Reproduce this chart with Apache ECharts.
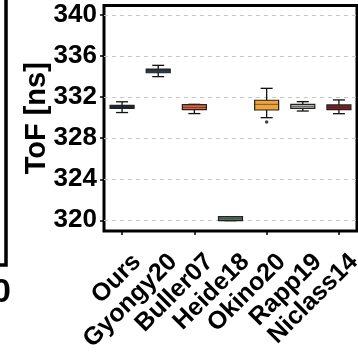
<!DOCTYPE html>
<html>
<head>
<meta charset="utf-8">
<script src="https://cdn.jsdelivr.net/npm/echarts@6/dist/echarts.min.js"></script>
<style>html,body{margin:0;padding:0;background:#fff;}#c{width:358px;height:355px;}</style>
</head>
<body>
<div id="c"></div>
<script>
const categories = ['Ours','Gyongy20','Buller07','Heide18','Okino20','Rapp19','Niclass14'];
// [min, q1, median, q3, max]
const ours      = [330.5, 330.9, 331.05, 331.2, 331.55];
const gyongy20  = [334.0, 334.38, 334.57, 334.74, 335.1];
const buller07  = [330.4, 330.78, 331.0, 331.27, 331.3];
const heide18   = [319.97, 319.97, 320.15, 320.36, 320.36];
const okino20   = [330.0, 330.75, 331.3, 331.7, 332.86];
const rapp19    = [330.65, 330.9, 331.1, 331.3, 331.56];
const niclass14 = [330.39, 330.78, 331.0, 331.24, 331.73];
const boxStats = [ours, gyongy20, buller07, heide18, okino20, rapp19, niclass14];
const outliers = [['Okino20', 329.58]];
const yTicks = [320, 324, 328, 332, 336, 340];
const colors = ['#1e2838','#2c3e4f','#e8653a','#5f7b68','#f0a43c','#bcc4b6','#8c1d1d'];

const chart = echarts.init(document.getElementById('c'));
const FONT = 'Liberation Sans';

function renderBox(params, api) {
  const i = api.value(0);
  const vmin = api.value(1), q1 = api.value(2), med = api.value(3), q3 = api.value(4), vmax = api.value(5);
  const pMin = api.coord([i, vmin]);
  const pQ1 = api.coord([i, q1]);
  const pMed = api.coord([i, med]);
  const pQ3 = api.coord([i, q3]);
  const pMax = api.coord([i, vmax]);
  const x = pMin[0];
  const bw = 24, cw = 12;
  const ls = {stroke: '#111', lineWidth: 1.3};
  return {
    type: 'group',
    children: [
      {type: 'line', shape: {x1: x, y1: pMin[1], x2: x, y2: pMax[1]}, style: ls},
      {type: 'line', shape: {x1: x - cw/2, y1: pMin[1], x2: x + cw/2, y2: pMin[1]}, style: ls},
      {type: 'line', shape: {x1: x - cw/2, y1: pMax[1], x2: x + cw/2, y2: pMax[1]}, style: ls},
      {type: 'rect', shape: {x: x - bw/2, y: pQ3[1], width: bw, height: Math.max(pQ1[1] - pQ3[1], 1)},
        style: {fill: colors[i], stroke: '#222', lineWidth: 1.2}},
      {type: 'line', shape: {x1: x - bw/2, y1: pMed[1], x2: x + bw/2, y2: pMed[1]}, style: {stroke: 'rgba(40,40,40,0.6)', lineWidth: 1}}
    ]
  };
}

chart.setOption({
  animation: false,
  grid: {left: 104, right: 1, top: 5.5, bottom: 124, show: true, borderColor: '#000', borderWidth: 3, backgroundColor: 'transparent'},
  xAxis: {
    type: 'category', data: categories, boundaryGap: true,
    axisLine: {show: false},
    axisTick: {show: true, alignWithLabel: true, length: 4, lineStyle: {color: '#000', width: 1.5}},
    axisLabel: {show: false},
    splitLine: {show: false}
  },
  yAxis: {
    type: 'value', min: 318.96, max: 340.93,
    name: 'ToF [ns]', nameLocation: 'middle', nameGap: 53, nameRotate: 90, nameMoveOverlap: false,
    nameTextStyle: {fontFamily: FONT, fontWeight: 'bold', fontSize: 29, color: '#000'},
    axisLine: {show: false},
    axisTick: {show: true, length: 4, customValues: yTicks, lineStyle: {color: '#000', width: 1.5}},
    axisLabel: {show: true, customValues: yTicks, margin: 7, fontFamily: FONT, fontWeight: 'bold', fontSize: 26, color: '#000'},
    splitLine: {show: true, lineStyle: {color: '#c8c8c8', width: 1, type: [4, 4]}}
  },
  series: [
    {
      type: 'custom', renderItem: renderBox, clip: false,
      encode: {x: 0, y: [1,2,3,4,5]},
      data: boxStats.map((s, i) => [i].concat(s)),
      z: 3
    },
    {
      type: 'scatter', data: outliers, symbolSize: 3.5, itemStyle: {color: '#111'}, z: 4
    }
  ]
});

// rotated category labels positioned from the axis scale
const LF = 25;
const graphics = [
  {type: 'rect', shape: {x: -50, y: -10, width: 56, height: 275}, style: {fill: 'none', stroke: '#000', lineWidth: 3.5}, silent: true},
  {type: 'text', x: 11, y: 293, style: {text: '0', fontFamily: FONT, fontWeight: 'bold', fontSize: 34, fill: '#000', align: 'right', verticalAlign: 'middle'}}
];
categories.forEach((c, i) => {
  const p = chart.convertToPixel({xAxisIndex: 0}, c);
  graphics.push({
    type: 'text', x: p + 15, y: 258, rotation: Math.PI / 4,
    style: {text: c, fontFamily: FONT, fontWeight: 'bold', fontSize: LF, fill: '#000', align: 'right', verticalAlign: 'middle'}
  });
});
chart.setOption({graphic: graphics});
</script>
</body>
</html>
